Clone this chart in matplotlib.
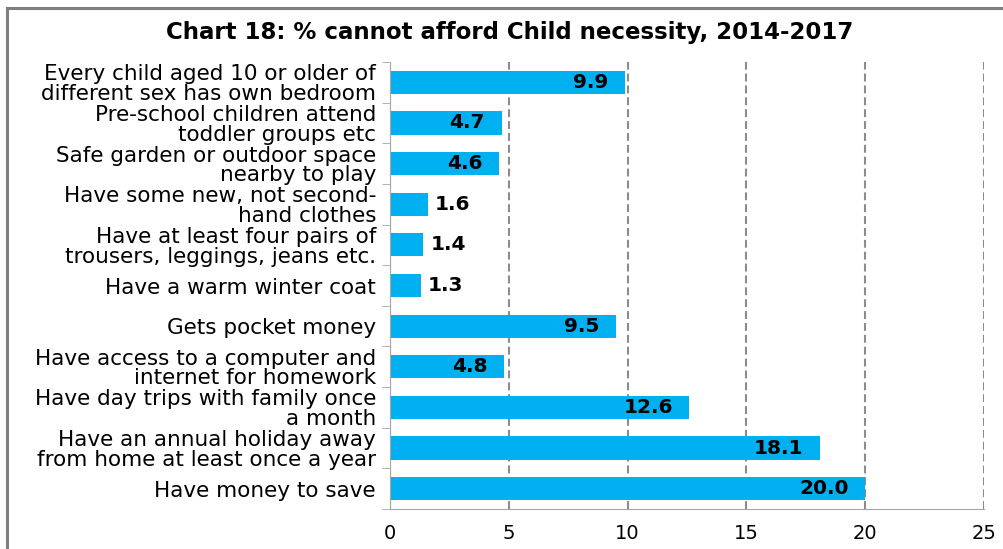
import matplotlib.pyplot as plt
from matplotlib.patches import Rectangle

plt.rcParams['font.family'] = ['DejaVu Sans']

labels = [
    "Every child aged 10 or older of\ndifferent sex has own bedroom",
    "Pre-school children attend\ntoddler groups etc",
    "Safe garden or outdoor space\nnearby to play",
    "Have some new, not second-\nhand clothes",
    "Have at least four pairs of\ntrousers, leggings, jeans etc.",
    "Have a warm winter coat",
    "Gets pocket money",
    "Have access to a computer and\ninternet for homework",
    "Have day trips with family once\na month",
    "Have an annual holiday away\nfrom home at least once a year",
    "Have money to save",
]
values = [9.9, 4.7, 4.6, 1.6, 1.4, 1.3, 9.5, 4.8, 12.6, 18.1, 20.0]

blue = "#00B0F0"
grey = "#8c8c8c"

fig = plt.figure(figsize=(10.04, 5.49), dpi=100)
ax = fig.add_axes([390 / 1004, 1 - 509 / 549, 594 / 1004, 447 / 549])

# outer chart frame
fig.patches.append(Rectangle((7 / 1004, -0.1), 1.2, 1 - 8 / 549 + 0.1,
                             transform=fig.transFigure, fill=False,
                             edgecolor="#7f7f7f", linewidth=2.2))

y = list(range(len(values)))
ax.barh(y, values, height=0.57, color=blue, zorder=3)
ax.set_ylim(len(values) - 0.5, -0.5)
ax.set_xlim(0, 25)
ax.set_xticks([0, 5, 10, 15, 20, 25])
ax.set_yticks(y)
ax.set_yticklabels(labels, fontsize=15.5, linespacing=0.98)
ax.tick_params(axis='y', length=0, pad=10)
ax.tick_params(axis='x', length=0, labelsize=14, pad=11)

# small tick marks between categories
ax.set_yticks([i - 0.5 for i in range(len(values) + 1)], minor=True)
ax.tick_params(axis='y', which='minor', length=6, color="#a6a6a6", direction='out')

ax.grid(axis='x', linestyle=(0, (3.8, 1.9)), color=grey, linewidth=1.5, zorder=0)
for s in ['top', 'right']:
    ax.spines[s].set_visible(False)
ax.spines['left'].set_color("#a6a6a6")
ax.spines['bottom'].set_color("#a6a6a6")
ax.spines['left'].set_zorder(4)

for yi, v in zip(y, values):
    txt = f"{v:.1f}"
    if v >= 4:
        ax.text(v - 0.7, yi, txt, ha='right', va='center', fontsize=14.5,
                fontweight='bold', zorder=5)
    else:
        ax.text(v + 0.3, yi, txt, ha='left', va='center', fontsize=14.5,
                fontweight='bold', zorder=5)

fig.text(510 / 1004, 1 - 33 / 549,
         "Chart 18: % cannot afford Child necessity, 2014-2017",
         ha='center', va='center', fontsize=16.5, fontweight='bold')

plt.savefig("out.png", dpi=100)
